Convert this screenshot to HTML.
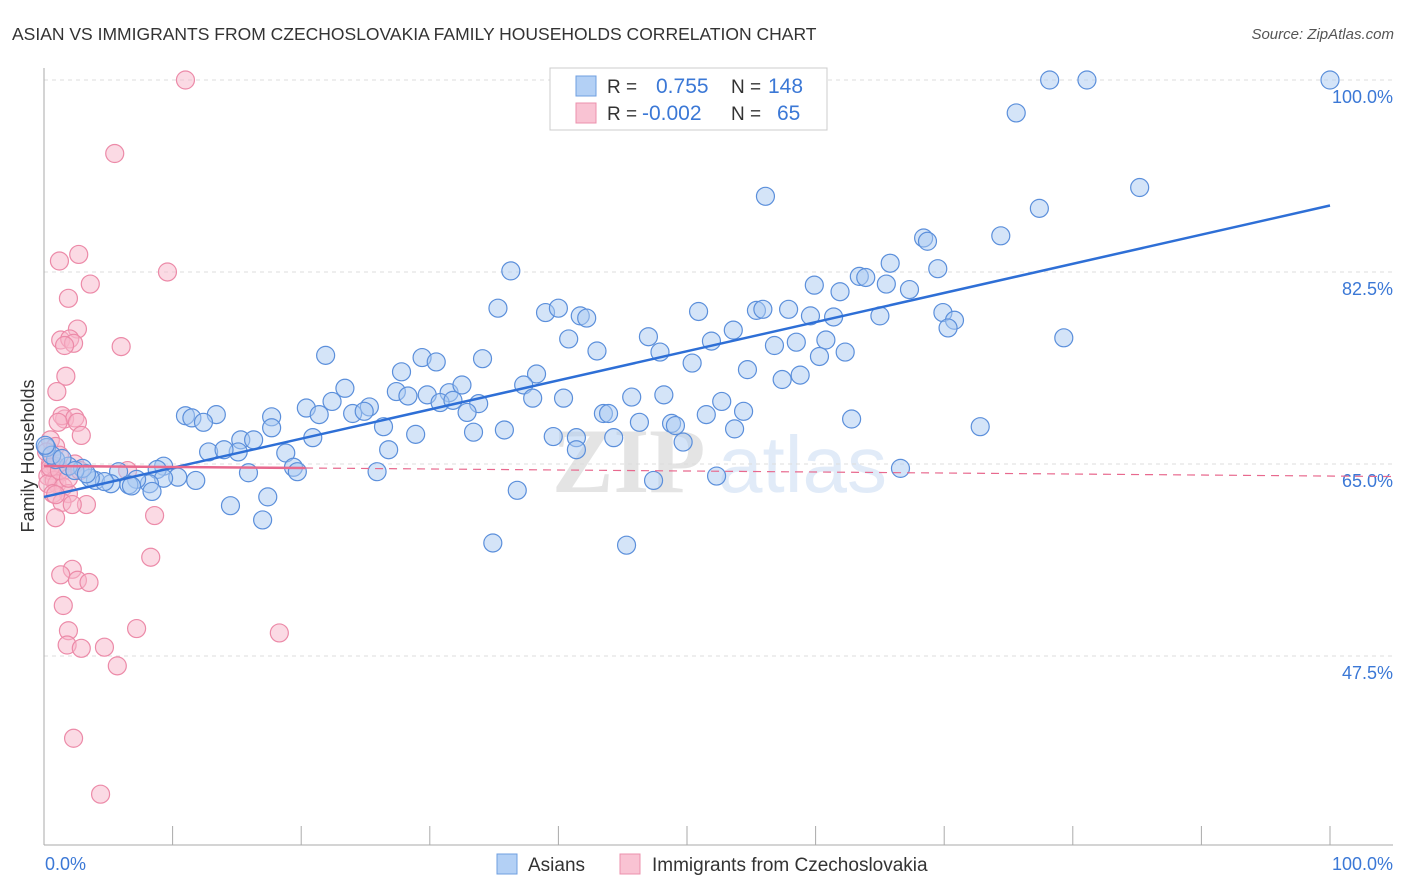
<!DOCTYPE html>
<html><head><meta charset="utf-8"><style>
body{margin:0;background:#fff;font-family:"Liberation Sans",sans-serif;}
svg{display:block}
</style></head><body>
<svg id="chart" width="1406" height="892" xmlns="http://www.w3.org/2000/svg">
<text x="12" y="40" font-size="17.5" fill="#333">ASIAN VS IMMIGRANTS FROM CZECHOSLOVAKIA FAMILY HOUSEHOLDS CORRELATION CHART</text>
<text x="1394" y="39" font-size="15" fill="#555" font-style="italic" text-anchor="end">Source: ZipAtlas.com</text>
<g opacity="0.22">
<text x="552" y="492" font-family="Liberation Serif,serif" font-size="92" font-weight="bold" fill="#888">ZIP</text>
<text x="718" y="492" font-size="80" fill="#7aa6e0">atlas</text>
</g>
<g id="grid"></g>
<g id="axes"></g>
<g id="pinkPts"></g>
<g id="bluePts"></g>
<g id="lines"></g>
<g>
<rect x="550" y="68" width="277" height="62" fill="#fff" stroke="#ccc"/>
<rect x="576" y="76" width="20" height="20" fill="#b3d0f5" stroke="#6f9fe0"/>
<rect x="576" y="103" width="20" height="20" fill="#f9c3d3" stroke="#ec90ac"/>
<text x="607" y="93" font-size="19" fill="#333">R =</text>
<text x="656" y="93" font-size="21" fill="#3b78d6">0.755</text>
<text x="731" y="93" font-size="19" fill="#333">N =</text>
<text x="768" y="93" font-size="21" fill="#3b78d6">148</text>
<text x="607" y="120" font-size="19" fill="#333">R =</text>
<text x="642" y="120" font-size="21" fill="#3b78d6">-0.002</text>
<text x="731" y="120" font-size="19" fill="#333">N =</text>
<text x="777" y="120" font-size="21" fill="#3b78d6">65</text>
</g>
<text transform="translate(34,456) rotate(-90)" font-size="18" fill="#333" text-anchor="middle">Family Households</text>
<text x="45" y="870" font-size="18" fill="#3b78d6">0.0%</text>
<text x="1393" y="870" font-size="18" fill="#3b78d6" text-anchor="end">100.0%</text>
<g>
<rect x="497" y="854" width="20" height="20" fill="#b3d0f5" stroke="#6f9fe0"/>
<text x="528" y="871" font-size="19" fill="#333">Asians</text>
<rect x="620" y="854" width="20" height="20" fill="#f9c3d3" stroke="#ec90ac"/>
<text x="652" y="871" font-size="19" fill="#333">Immigrants from Czechoslovakia</text>
</g>
</svg>
<script>
const yTicks=[47.5,65.0,82.5,100.0];
const yTickLabels=["47.5%","65.0%","82.5%","100.0%"];
const asianX=[78.2,81.1,100,75.6,85.2,56.1,77.4,68.4,68.7,74.4,36.3,63.4,63.9,65.8,69.5,59.9,61.9,65.5,67.3,35.3,39.0,40.0,41.7,42.2,50.9,55.4,55.9,57.9,59.6,61.4,65.0,69.9,70.8,70.3,79.3,47.0,53.6,51.9,40.8,43.0,47.9,56.8,58.5,60.8,60.3,62.3,21.9,29.4,30.5,34.1,27.8,38.3,50.4,54.7,57.4,58.8,23.4,27.4,28.3,29.8,31.5,32.5,37.3,38.0,40.4,20.4,22.4,25.3,24.0,24.9,30.8,31.8,33.8,32.9,43.5,43.9,45.7,48.2,52.7,54.4,51.5,11.0,11.5,13.4,12.4,17.7,21.4,26.4,28.9,33.4,35.8,39.6,41.4,44.3,46.3,48.8,49.1,53.7,62.8,72.8,49.7,15.3,16.3,15.1,12.8,14.0,18.8,26.8,41.4,20.9,17.7,15.9,19.4,19.7,25.9,9.3,8.8,10.4,9.3,11.8,8.2,7.2,5.8,4.0,5.2,6.6,4.7,3.6,3.0,1.9,0.9,8.4,6.8,14.5,17.4,36.8,47.4,52.3,66.6,17.0,34.9,45.3,0.2,0.6,1.4,2.4,3.3,0.1];
const asianY=[100,100,100,97.0,90.2,89.4,88.3,85.6,85.3,85.8,82.6,82.1,82.0,83.3,82.8,81.3,80.7,81.4,80.9,79.2,78.8,79.2,78.5,78.3,78.9,79.0,79.1,79.1,78.5,78.4,78.5,78.8,78.1,77.4,76.5,76.6,77.2,76.2,76.4,75.3,75.2,75.8,76.1,76.3,74.8,75.2,74.9,74.7,74.3,74.6,73.4,73.2,74.2,73.6,72.7,73.1,71.9,71.6,71.2,71.3,71.5,72.2,72.2,71.0,71.0,70.1,70.7,70.2,69.6,69.8,70.6,70.8,70.5,69.7,69.6,69.6,71.1,71.3,70.7,69.8,69.5,69.4,69.2,69.5,68.8,69.3,69.5,68.4,67.7,67.9,68.1,67.5,67.4,67.4,68.8,68.7,68.5,68.2,69.1,68.4,67.0,67.2,67.2,66.1,66.1,66.3,66.0,66.3,66.3,67.4,68.3,64.2,64.7,64.3,64.3,64.8,64.5,63.8,63.7,63.5,63.2,63.6,64.3,63.5,63.2,63.1,63.4,63.7,64.6,64.8,65.4,62.5,63.0,61.2,62.0,62.6,63.5,63.9,64.6,59.9,57.8,57.6,66.5,65.8,65.5,64.4,64.1,66.7];
const czechX=[11.0,5.5,2.7,1.2,9.6,3.6,1.9,2.6,1.3,2.0,2.3,1.6,6.0,1.7,1.0,1.6,1.4,2.4,1.1,2.6,2.9,0.5,0.9,0.2,1.2,0.5,2.4,0.9,0.5,1.4,0.3,0.8,1.0,0.3,1.5,1.9,0.7,1.4,3.3,2.2,8.6,0.9,6.5,8.3,2.2,1.3,2.6,3.5,1.5,1.9,7.2,1.8,2.9,4.7,18.3,5.7,2.3,4.4,0.5,1.2,1.9,0.9,2.8];
const czechY=[100,93.3,84.1,83.5,82.5,81.4,80.1,77.3,76.3,76.4,76.0,75.8,75.7,73.0,71.6,69.1,69.4,69.2,68.8,68.8,67.6,67.2,66.6,66.1,65.8,65.0,65.0,64.8,64.4,64.3,63.9,63.5,63.2,63.2,62.9,62.3,62.3,61.5,61.3,61.3,60.3,60.1,64.4,56.5,55.4,54.9,54.4,54.2,52.1,49.8,50.0,48.5,48.2,48.3,49.6,46.6,40.0,34.9,64.7,64.4,63.7,62.2,64.4];

const NS='http://www.w3.org/2000/svg';
const L=44,R=1330,T=80,PX=10.971;
function sx(v){return L+(R-L)*v/100;}
function sy(v){return T+(100-v)*PX;}
function mk(tag,attrs,parent){const e=document.createElementNS(NS,tag);for(const k in attrs)e.setAttribute(k,attrs[k]);parent.appendChild(e);return e;}
const grid=document.getElementById('grid'),axes=document.getElementById('axes');
yTicks.forEach((t,i)=>{
  const g=mk('line',{x1:L,x2:1393,y1:sy(t),y2:sy(t),stroke:'#ddd','stroke-dasharray':'4,4'},grid);
  
  
  const tx=mk('text',{x:1393,y:sy(t)+23,'font-size':18,fill:'#3b78d6','text-anchor':'end'},axes);
  tx.textContent=yTickLabels[i];
  
  
});
const ax=mk('line',{x1:L,x2:L,y1:68,y2:845,stroke:'#aaa'},axes);


const bx=mk('line',{x1:L,x2:1393,y1:845,y2:845,stroke:'#aaa'},axes);


for(let i=0;i<=10;i++){
  const tk=mk('line',{x1:sx(i*10),x2:sx(i*10),y1:826,y2:845,stroke:'#aaa'},axes);
  
  
}
function pts(xs,ys,g,fill,stroke,name){
  xs.forEach((x,i)=>{
    const c=mk('circle',{cx:sx(x),cy:sy(ys[i]),r:9,fill:fill,'fill-opacity':0.5,stroke:stroke,'stroke-width':1.2},g);
    
    
  });
}
pts(czechX,czechY,document.getElementById('pinkPts'),'#f7b6c9','#ec8aa8','czech-point');
pts(asianX,asianY,document.getElementById('bluePts'),'#a9c9f2','#5b8fdb','asian-point');
function fit(xs,ys){const n=xs.length;let mx=0,my=0;xs.forEach((x,i)=>{mx+=x;my+=ys[i];});mx/=n;my/=n;let sxy=0,sxx=0;xs.forEach((x,i)=>{sxy+=(x-mx)*(ys[i]-my);sxx+=(x-mx)*(x-mx);});const b=sxy/sxx;return [my-b*mx,b];}
const lines=document.getElementById('lines');
const fa=fit(asianX,asianY);
const la=mk('line',{x1:sx(0),y1:sy(fa[0]),x2:sx(100),y2:sy(fa[0]+fa[1]*100),stroke:'#2e6fd6','stroke-width':2.5},lines);


const fc=fit(czechX,czechY);
const mxC=Math.max(...czechX)+2;
const lc=mk('line',{x1:sx(0),y1:sy(fc[0]),x2:sx(mxC),y2:sy(fc[0]+fc[1]*mxC),stroke:'#e8698e','stroke-width':2.5},lines);


const ld=mk('line',{x1:sx(mxC),y1:sy(fc[0]+fc[1]*mxC),x2:sx(105),y2:sy(fc[0]+fc[1]*105),stroke:'#e8698e','stroke-width':1.2,'stroke-dasharray':'8,6'},lines);


</script>
</body></html>
